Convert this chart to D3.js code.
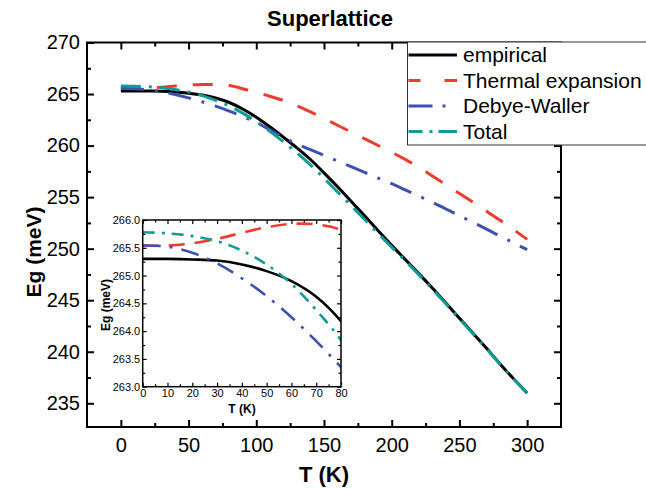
<!DOCTYPE html>
<html><head><meta charset="utf-8">
<script src="https://cdn.jsdelivr.net/npm/d3@7"></script>
<style>
html,body{margin:0;padding:0;background:#fff;}
svg{display:block;font-family:"Liberation Sans",Arial,Helvetica,sans-serif;}
</style></head>
<body><svg id="c" width="646" height="489"></svg>
<script>
const T = [0,10,20,30,40,50,60,70,80,90,100,110,120,130,140,150,160,170,180,190,200,210,220,230,240,250,260,270,280,290,300];
const empirical = [265.30,265.30,265.29,265.27,265.20,265.08,264.90,264.62,264.18,263.55,262.75,261.82,260.82,259.78,258.65,257.35,256.00,254.60,253.18,251.74,250.32,248.95,247.58,246.18,244.72,243.26,241.80,240.33,238.82,237.38,236.00];
const thermal = [265.54,265.54,265.58,265.66,265.77,265.87,265.93,265.92,265.82,265.52,265.16,264.79,264.37,263.86,263.28,262.64,261.97,261.31,260.66,260.01,259.35,258.66,257.90,257.06,256.21,255.36,254.50,253.64,252.75,251.84,250.90];
const debye = [265.54,265.52,265.41,265.22,264.95,264.63,264.25,263.82,263.35,262.82,262.24,261.52,260.78,260.16,259.60,259.05,258.50,257.95,257.40,256.85,256.30,255.70,255.10,254.50,253.85,253.20,252.55,251.90,251.22,250.56,249.90];
const total = [265.78,265.76,265.71,265.62,265.45,265.20,264.85,264.38,263.84,263.15,262.32,261.38,260.38,259.30,258.12,256.84,255.50,254.18,252.83,251.47,250.15,248.83,247.48,246.08,244.65,243.20,241.75,240.29,238.80,237.36,236.00];

const seriesNames = ["empirical","Thermal expansion","Debye-Waller","Total"];
const xTicks = [0,50,100,150,200,250,300];
const xMinor = [25,75,125,175,225,275];
const yTicks = [235,240,245,250,255,260,265,270];
const yMinor = [237.5,242.5,247.5,252.5,257.5,262.5,267.5];
const inXTicks = [0,10,20,30,40,50,60,70,80];
const inXMinor = [5,15,25,35,45,55,65,75];
const inYTicks = [263.0,263.5,264.0,264.5,265.0,265.5,266.0];
const inYMinor = [263.25,263.75,264.25,264.75,265.25,265.75];

const styles = [
  {color:"#000000", dash:null, idash:null},
  {color:"#ee3b2b", dash:"20,16", idash:"16,10"},
  {color:"#3f51b0", dash:"23,11,3,11", idash:"18,9,3,9"},
  {color:"#139a96", dash:"20,8,3,8", idash:"12,7,3,7"}
];
const legendDash = [null,"12,24,14","24,10,3,20","14,7,3,6,30"];

const svg = d3.select("#c");
const M = {l:87, r:561, t:42.5, b:427};
const x = d3.scaleLinear().domain([-25,325]).range([M.l,M.r]);
const y = d3.scaleLinear().domain([232.7,270]).range([M.b,M.t]);

const data = [empirical, thermal, debye, total].map(v => T.map((t,i)=>({t, e:v[i]})));

// title
svg.append("text").attr("x",330).attr("y",26).attr("text-anchor","middle")
  .attr("font-size",22).attr("font-weight","bold").text("Superlattice");

svg.append("defs").append("clipPath").attr("id","clipMain")
  .append("rect").attr("x",M.l).attr("y",M.t).attr("width",M.r-M.l).attr("height",M.b-M.t);

function axes(g, xs, ys, xt, xm, yt, ym, box, opt){
  const ax = (gen, vals, size, fmt, pad) => {
    const a = gen.tickValues(vals).tickSize(size).tickPadding(pad);
    if (fmt !== undefined) a.tickFormat(fmt);
    return a;
  };
  const mk = (tr, a) => {
    const gg = g.append("g").attr("transform",tr).call(a);
    gg.select(".domain").remove();
    gg.selectAll("line").attr("stroke","#000").attr("stroke-width",opt.tw);
    gg.selectAll("text").attr("font-size",opt.fs).attr("fill","#000").attr("font-family",'"Liberation Sans",Arial,sans-serif');
    return gg;
  };
  mk(`translate(0,${box.b})`, ax(d3.axisBottom(xs), xt, -opt.major, opt.xfmt, opt.xpad));
  mk(`translate(0,${box.b})`, ax(d3.axisBottom(xs), xm, -opt.minor, "", 0));
  mk(`translate(0,${box.t})`, ax(d3.axisTop(xs), xt, -opt.major, "", 0));
  mk(`translate(0,${box.t})`, ax(d3.axisTop(xs), xm, -opt.minor, "", 0));
  mk(`translate(${box.l},0)`, ax(d3.axisLeft(ys), yt, -opt.major, opt.yfmt, opt.ypad));
  mk(`translate(${box.l},0)`, ax(d3.axisLeft(ys), ym, -opt.minor, "", 0));
  mk(`translate(${box.r},0)`, ax(d3.axisRight(ys), yt, -opt.major, "", 0));
  mk(`translate(${box.r},0)`, ax(d3.axisRight(ys), ym, -opt.minor, "", 0));
  g.append("rect").attr("x",box.l).attr("y",box.t).attr("width",box.r-box.l).attr("height",box.b-box.t)
    .attr("fill","none").attr("stroke","#000").attr("stroke-width",opt.fw);
}

// main lines
const line = d3.line().x(d=>x(d.t)).y(d=>y(d.e)).curve(d3.curveCatmullRom);
const gl = svg.append("g").attr("clip-path","url(#clipMain)");
data.forEach((d,i)=>{
  gl.append("path").datum(d).attr("d",line).attr("fill","none")
    .attr("stroke",styles[i].color).attr("stroke-width",3)
    .attr("stroke-dasharray",styles[i].dash);
});

axes(svg.append("g"), x, y, xTicks, xMinor, yTicks, yMinor, M,
  {fs:20, tw:2, fw:2, major:7, minor:4, xpad:11, ypad:7, xfmt:d3.format("d"), yfmt:d3.format("d")});

svg.append("text").attr("x",324).attr("y",482).attr("text-anchor","middle")
  .attr("font-size",22).attr("font-weight","bold").text("T (K)");
svg.append("text").attr("transform","translate(41,252) rotate(-90)").attr("text-anchor","middle")
  .attr("font-size",21).attr("font-weight","bold").text("Eg (meV)");

// inset
const I = {l:142.7, r:341, t:220, b:386.7};
const ix = d3.scaleLinear().domain([0,80]).range([I.l,I.r]);
const iy = d3.scaleLinear().domain([263,266]).range([I.b,I.t]);
svg.append("rect").attr("x",I.l).attr("y",I.t).attr("width",I.r-I.l).attr("height",I.b-I.t).attr("fill","#fff");
svg.select("defs").append("clipPath").attr("id","clipIn")
  .append("rect").attr("x",I.l).attr("y",I.t).attr("width",I.r-I.l).attr("height",I.b-I.t);
const iline = d3.line().x(d=>ix(d.t)).y(d=>iy(d.e)).curve(d3.curveCatmullRom);
const gi = svg.append("g").attr("clip-path","url(#clipIn)");
data.forEach((d,i)=>{
  gi.append("path").datum(d.filter(p=>p.t<=90)).attr("d",iline).attr("fill","none")
    .attr("stroke",styles[i].color).attr("stroke-width",2.6)
    .attr("stroke-dasharray",styles[i].idash);
});
axes(svg.append("g"), ix, iy, inXTicks, inXMinor, inYTicks, inYMinor, I,
  {fs:11, tw:1.2, fw:1.5, major:4, minor:2.5, xpad:2.5, ypad:2.5, xfmt:d3.format("d"), yfmt:d3.format(".1f")});
svg.append("text").attr("x",242).attr("y",413).attr("text-anchor","middle")
  .attr("font-size",12).attr("font-weight","bold").text("T (K)");
svg.append("text").attr("transform","translate(110,305) rotate(-90)").attr("text-anchor","middle")
  .attr("font-size",12).attr("font-weight","bold").text("Eg (meV)");

// legend
const lg = svg.append("g");
lg.append("rect").attr("x",407.5).attr("y",42).attr("width",260).attr("height",103)
  .attr("fill","#fff").attr("stroke","#333").attr("stroke-width",1);
const rowY = d3.scaleLinear().domain([0,3]).range([55,131.5]);
seriesNames.forEach((n,i)=>{
  lg.append("line").attr("x1",408.5).attr("x2",457).attr("y1",rowY(i)).attr("y2",rowY(i))
    .attr("stroke",styles[i].color).attr("stroke-width",3).attr("stroke-dasharray",legendDash[i]);
  lg.append("text").attr("x",463).attr("y",rowY(i)+7).attr("font-size",21).text(n);
});
</script></body></html>
